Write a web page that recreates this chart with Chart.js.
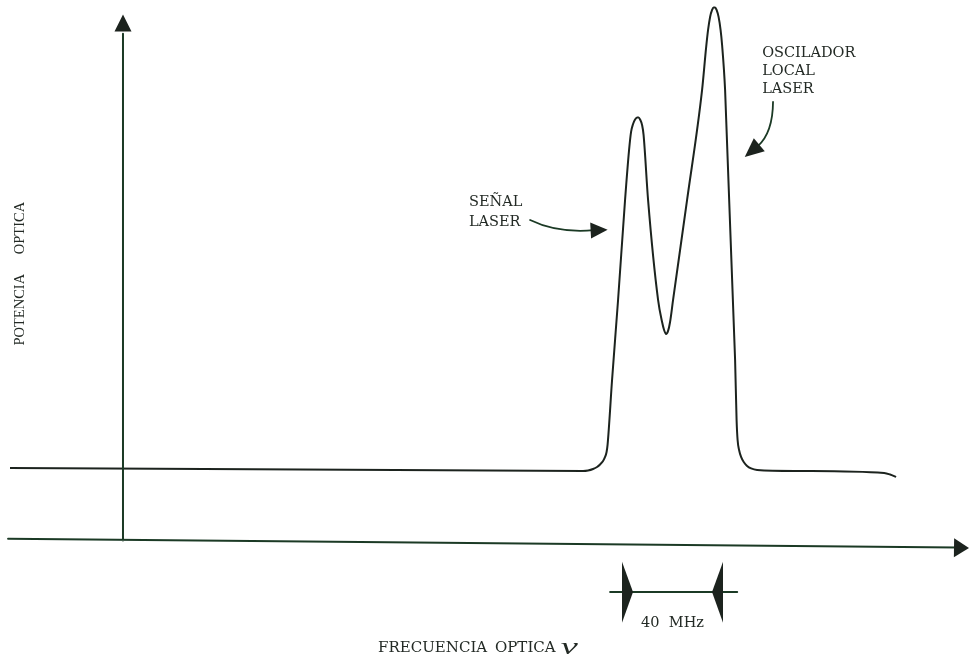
<!DOCTYPE html>
<html>
<head>
<meta charset="utf-8">
<script src="https://cdn.jsdelivr.net/npm/chart.js@4/dist/chart.umd.min.js"></script>
<style>
  html, body { margin: 0; padding: 0; background: #fff; }
  #wrap { position: relative; width: 969px; height: 663px; }
</style>
</head>
<body>
<div id="wrap"><canvas id="spectrum"></canvas></div>
<script>
// optical frequency (MHz from the vertical axis) and optical power (arb. units, LO peak = 100)
const freq  = [-44.75, 70.10, 182.18, 184.16, 186.14, 187.72, 188.91, 190.10, 190.89, 191.49,
               191.88, 193.66, 196.04, 198.81, 200.40, 201.19, 201.98, 202.77, 203.56, 204.16,
               204.75, 205.54, 206.14, 207.92, 211.88, 213.47, 214.26, 215.05, 215.84, 216.63,
               217.82, 223.37, 229.31, 230.89, 231.68, 232.48, 233.27, 233.86, 234.46, 235.05,
               235.84, 236.63, 237.23, 238.42, 242.38, 242.97, 243.37, 243.96, 244.75, 245.94,
               247.13, 248.71, 251.09, 268.12, 301.39, 303.76, 306.14];
const power = [13.67, 13.39, 13.11, 13.20, 13.48, 13.86, 14.33, 14.98, 15.73, 16.67,
               17.98, 30.15, 45.13, 63.86, 73.22, 76.59, 78.09, 78.93, 79.31, 79.31,
               78.93, 77.90, 76.03, 63.86, 45.13, 41.01, 39.51, 38.76, 39.33, 41.01,
               45.13, 63.86, 84.46, 92.32, 95.69, 98.13, 99.44, 99.91, 99.91, 99.44,
               98.13, 95.69, 92.88, 84.46, 33.90, 22.66, 18.91, 17.04, 15.73, 14.70,
               14.04, 13.58, 13.30, 13.11, 12.73, 12.45, 11.99];

// separation marked under the peaks
const spacingStart = 197.6;
const spacingMHz = 40;

const axisTitleX = ['FRECUENCIA', 'OPTICA'];
const axisTitleY = ['POTENCIA', 'OPTICA'];
const signalLabel = ['SEÑAL', 'LASER'];
const loLabel = ['OSCILADOR', 'LOCAL', 'LASER'];

const INK = '#1c231e';
const AXIS_INK = '#1b3a25';
const TEXT_INK = '#232a25';

function head(ctx, tx, ty, bx, by, len, half) {
  const a = Math.atan2(ty - by, tx - bx);
  const cx = tx - len * Math.cos(a), cy = ty - len * Math.sin(a);
  ctx.beginPath();
  ctx.moveTo(tx, ty);
  ctx.lineTo(cx + half * Math.sin(a), cy - half * Math.cos(a));
  ctx.lineTo(cx - half * Math.sin(a), cy + half * Math.cos(a));
  ctx.closePath();
  ctx.fill();
}

const sketch = {
  id: 'sketch',
  afterDatasetsDraw(chart) {
    const {ctx, scales: {x, y}} = chart;
    const X = v => x.getPixelForValue(v), Y = v => y.getPixelForValue(v);
    ctx.save();
    ctx.lineCap = 'round';

    // axes with arrow heads
    ctx.strokeStyle = AXIS_INK; ctx.fillStyle = INK; ctx.lineWidth = 2;
    ctx.beginPath();
    ctx.moveTo(X(-45.5), Y(0.4)); ctx.lineTo(X(330), Y(-1.2));
    ctx.moveTo(X(0), Y(0.1)); ctx.lineTo(X(0), Y(95));
    ctx.stroke();
    head(ctx, X(335), Y(-1.3), X(320), Y(-1.2), 15, 9.5);
    head(ctx, X(0), Y(98.6), X(0), Y(90), 17, 8.5);

    // SEÑAL LASER arrow
    ctx.lineWidth = 1.8;
    ctx.beginPath();
    ctx.moveTo(X(161.2), Y(60.1));
    ctx.quadraticCurveTo(X(172), Y(57.6), X(186.5), Y(58.2));
    ctx.stroke();
    head(ctx, X(191.9), Y(58.3), X(184), Y(58.1), 17, 8);

    // OSCILADOR LOCAL arrow
    ctx.beginPath();
    ctx.moveTo(X(257.4), Y(82.2));
    ctx.quadraticCurveTo(X(257.3), Y(76.5), X(251.5), Y(74.0));
    ctx.stroke();
    head(ctx, X(246.2), Y(71.9), X(253), Y(74.6), 19, 8.5);

    // 40 MHz spacing marker
    const ym = Y(-9.55);
    ctx.lineWidth = 2;
    ctx.beginPath();
    ctx.moveTo(X(spacingStart - 4.7), ym); ctx.lineTo(X(spacingStart + spacingMHz + 5.6), ym);
    ctx.stroke();
    [[spacingStart, 1], [spacingStart + spacingMHz, -1]].forEach(([f, d]) => {
      ctx.beginPath();
      ctx.moveTo(X(f), Y(-3.9));
      ctx.lineTo(X(f) + d * 11, ym);
      ctx.lineTo(X(f), Y(-15.3));
      ctx.closePath();
      ctx.fill();
    });

    // texts
    ctx.fillStyle = TEXT_INK;
    ctx.textBaseline = 'middle';
    ctx.font = '14.5px "DejaVu Serif"';
    ctx.textAlign = 'left';
    signalLabel.forEach((t, i) => ctx.fillText(t, X(137), Y(63.5 - i * 3.75)));
    loLabel.forEach((t, i) => ctx.fillText(t, X(253.1), Y(91.4 - i * 3.4)));
    ctx.textAlign = 'center';
    ctx.fillText('40  MHz', X(spacingStart + spacingMHz / 2), Y(-15.4));
    ctx.font = '15px "DejaVu Serif"';
    ctx.textAlign = 'left';
    ctx.fillText(axisTitleX[0], X(101), Y(-20.1));
    ctx.fillText(axisTitleX[1], X(147.3), Y(-20.1));
    ctx.save();
    ctx.font = 'italic 24px "Liberation Serif"';
    ctx.translate(X(173.3), Y(-19.9));
    ctx.scale(1.6, 1);
    ctx.fillText('ν', 0, 0);
    ctx.restore();

    ctx.font = '14.5px "Liberation Serif"';
    ctx.textAlign = 'center';
    [[axisTitleY[0], 43.3], [axisTitleY[1], 58.6]].forEach(([t, v]) => {
      ctx.save();
      ctx.translate(X(-40.8), Y(v));
      ctx.rotate(-Math.PI / 2);
      ctx.fillText(t, 0, 0);
      ctx.restore();
    });
    ctx.restore();
  }
};

new Chart(document.getElementById('spectrum'), {
  type: 'line',
  data: {
    datasets: [{
      data: freq.map((f, i) => ({x: f, y: power[i]})),
      borderColor: INK,
      borderWidth: 2,
      pointRadius: 0,
      cubicInterpolationMode: 'monotone',
      fill: false
    }]
  },
  options: {
    responsive: true,
    maintainAspectRatio: false,
    animation: false,
    layout: {padding: 0, autoPadding: false},
    scales: {
      x: {type: 'linear', min: -48.7, max: 335.0, display: false},
      y: {type: 'linear', min: -22.85, max: 101.3, display: false}
    },
    plugins: {
      legend: {display: false},
      tooltip: {enabled: false}
    }
  },
  plugins: [sketch]
});
</script>
</body>
</html>
